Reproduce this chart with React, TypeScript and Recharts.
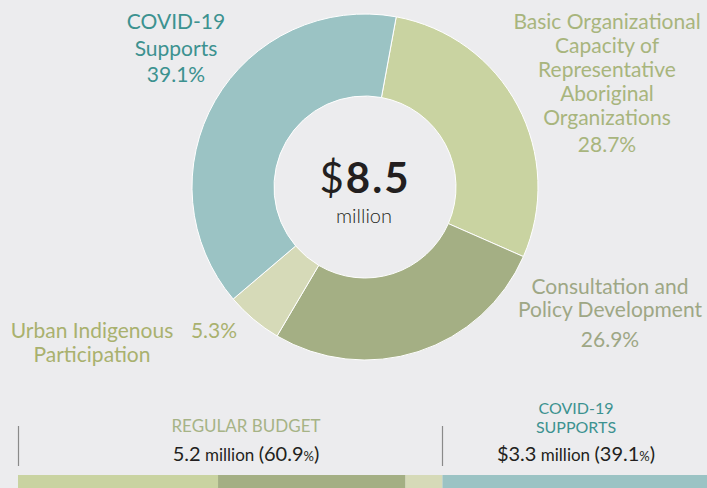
import { PieChart, Pie, Cell, BarChart, Bar, XAxis, YAxis } from 'recharts';

const categories = [
  'Basic Organizational Capacity of Representative Aboriginal Organizations',
  'Consultation and Policy Development',
  'Urban Indigenous Participation',
  'COVID-19 Supports',
];
const shares = [28.7, 26.9, 5.3, 39.1];
const sliceColors = ['#c9d3a1', '#a4af84', '#d6dab8', '#9bc3c4'];
const barKeys = ['basic', 'consultation', 'urban', 'covid'];

const pieData = categories.map((name, i) => ({ name, value: shares[i] }));
const barRow: Record<string, number | string> = { row: 'budget' };
barKeys.forEach((k, i) => {
  barRow[k] = shares[i];
});
const barData = [barRow];

const FONT = 'Lato, "Open Sans", sans-serif';
const TEAL = '#3c9290';
const BG = '#ececee';

function Label({ x, y, lines, color, gap = 24, extra = 0 }: { x: number; y: number; lines: string[]; color: string; gap?: number; extra?: number }) {
  return (
    <text x={x} y={y} textAnchor="middle" fill={color} fontSize={21} fontFamily={FONT}>
      {lines.map((l, i) => (
        <tspan key={i} x={x} y={y + i * gap + (i === lines.length - 1 ? extra : 0)}>
          {l}
        </tspan>
      ))}
    </text>
  );
}

export default function App() {
  return (
    <div style={{ position: 'absolute', left: 0, top: 0, width: 707, height: 488, background: BG, overflow: 'hidden', fontFamily: FONT }}>
      <div style={{ position: 'absolute', left: 0, top: 0 }}>
        <PieChart width={707} height={400} margin={{ top: 0, right: 0, bottom: 0, left: 0 }}>
          <Pie
            data={pieData}
            dataKey="value"
            nameKey="name"
            cx={365}
            cy={187}
            innerRadius={91}
            outerRadius={173}
            startAngle={79.6}
            endAngle={-280.4}
            stroke="#ffffff"
            strokeWidth={1}
            isAnimationActive={false}
          >
            {pieData.map((d, i) => (
              <Cell key={d.name} fill={sliceColors[i]} />
            ))}
          </Pie>
        </PieChart>
      </div>

      <div style={{ position: 'absolute', left: 18, top: 475 }}>
        <BarChart width={697} height={13} data={barData} layout="vertical" margin={{ top: 0, right: 0, bottom: 0, left: 0 }} barCategoryGap={0}>
          <XAxis type="number" domain={[0, 100]} hide />
          <YAxis type="category" dataKey="row" hide />
          {barKeys.map((k, i) => (
            <Bar key={k} dataKey={k} stackId="a" fill={sliceColors[i]} isAnimationActive={false} />
          ))}
        </BarChart>
      </div>

      <svg width={707} height={488} style={{ position: 'absolute', left: 0, top: 0, pointerEvents: 'none' }}>
        <Label x={176} y={29} lines={['COVID-19', 'Supports', '39.1%']} color={TEAL} gap={26.5} />
        <Label
          x={607}
          y={29}
          lines={['Basic Organizational', 'Capacity of', 'Representative', 'Aboriginal', 'Organizations', '28.7%']}
          color="#a8b57d"
          gap={24}
          extra={3}
        />
        <Label x={610} y={294} lines={['Consultation and', 'Policy Development', '26.9%']} color="#9ea785" gap={23} extra={7} />
        <Label x={92} y={338} lines={['Urban Indigenous', 'Participation']} color="#a9b16e" gap={24} />
        <text x={214} y={338} textAnchor="middle" fill="#a9b16e" fontSize={21} fontFamily={FONT}>
          5.3%
        </text>

        <text x={365} y={193} textAnchor="middle" fill="#231f20" fontFamily={FONT} fontSize={42} letterSpacing={2}>
          <tspan fontWeight={400}>$</tspan>
          <tspan fontWeight={700}>8.5</tspan>
        </text>
        <text x={364} y={223} textAnchor="middle" fill="#231f20" fontFamily={FONT} fontSize={20} fontWeight={300}>
          million
        </text>

        <line x1={18.5} y1={426} x2={18.5} y2={466} stroke="#8a8a8a" strokeWidth={1.2} />
        <line x1={442.5} y1={426} x2={442.5} y2={466} stroke="#8a8a8a" strokeWidth={1.2} />

        <text x={246} y={432} textAnchor="middle" fill="#a6b386" fontFamily={FONT} fontSize={17}>
          REGULAR BUDGET
        </text>
        <text x={246} y={461} textAnchor="middle" fill="#231f20" fontFamily={FONT}>
          <tspan fontSize={20}>5.2</tspan>
          <tspan fontSize={17}> million </tspan>
          <tspan fontSize={20}>(60.9</tspan>
          <tspan fontSize={13}>%</tspan>
          <tspan fontSize={20}>)</tspan>
        </text>

        <text x={576} y={414} textAnchor="middle" fill={TEAL} fontFamily={FONT} fontSize={16}>
          COVID-19
        </text>
        <text x={576} y={433} textAnchor="middle" fill={TEAL} fontFamily={FONT} fontSize={16}>
          SUPPORTS
        </text>
        <text x={576} y={461} textAnchor="middle" fill="#231f20" fontFamily={FONT}>
          <tspan fontSize={20}>$3.3</tspan>
          <tspan fontSize={17}> million </tspan>
          <tspan fontSize={20}>(39.1</tspan>
          <tspan fontSize={13}>%</tspan>
          <tspan fontSize={20}>)</tspan>
        </text>
      </svg>
    </div>
  );
}
